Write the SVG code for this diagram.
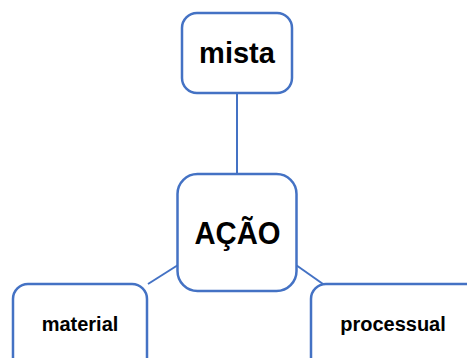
<svg xmlns="http://www.w3.org/2000/svg" width="467" height="358" viewBox="0 0 467 358">
  <style>
    .box { fill: #ffffff; stroke: #4472c4; stroke-width: 2.5; }
    .link { stroke: #4472c4; stroke-width: 2; fill: none; }
    .label { font-family: "Liberation Sans", Arial, sans-serif; font-weight: bold; fill: #000000; text-anchor: middle; }
  </style>
  <rect width="467" height="358" fill="#ffffff"/>
  <g id="connectors">
    <line class="link" x1="237" y1="93" x2="237" y2="174"/>
    <line class="link" x1="178" y1="265" x2="148" y2="284"/>
    <line class="link" x1="296" y1="265" x2="323" y2="284"/>
  </g>
  <g id="node-mista">
    <rect class="box" x="182" y="13" width="110" height="80" rx="15"/>
    <text class="label" x="237" y="63" font-size="29">mista</text>
  </g>
  <g id="node-acao">
    <rect class="box" x="177.5" y="174" width="119" height="117" rx="20"/>
    <text class="label" x="237.5" y="244" font-size="31" textLength="86" lengthAdjust="spacingAndGlyphs">AÇÃO</text>
  </g>
  <g id="node-material">
    <rect class="box" x="13" y="284" width="134" height="90" rx="15"/>
    <text class="label" x="80" y="331" font-size="20">material</text>
  </g>
  <g id="node-processual">
    <rect class="box" x="311" y="284" width="180" height="90" rx="15"/>
    <text class="label" x="393" y="331" font-size="20">processual</text>
  </g>
</svg>
